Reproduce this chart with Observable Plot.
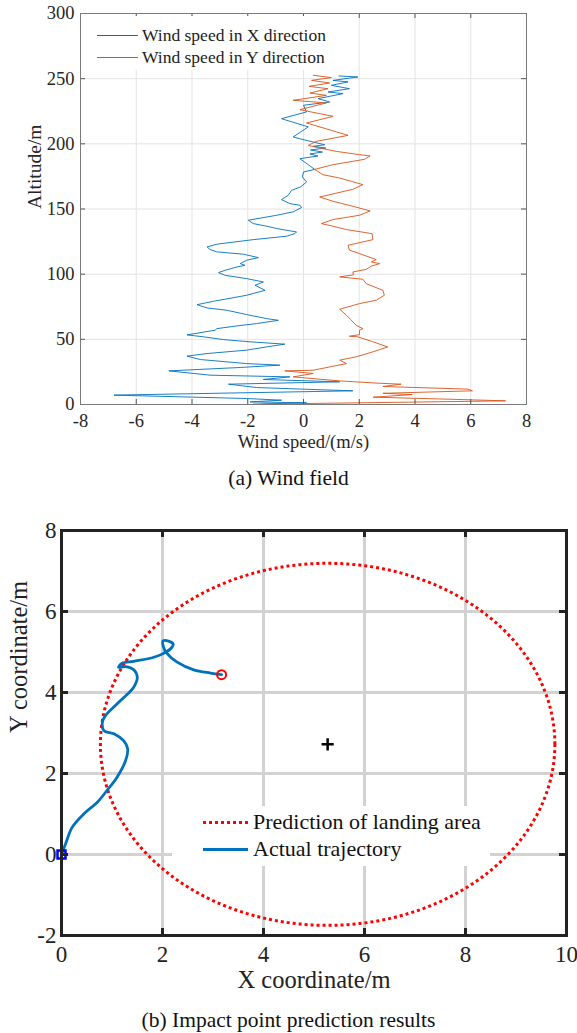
<!DOCTYPE html>
<html><head><meta charset="utf-8">
<script src="https://cdn.jsdelivr.net/npm/d3@7"></script>
<script src="https://cdn.jsdelivr.net/npm/@observablehq/plot@0.6"></script>
<style>
body{margin:0;background:#fff;font-family:"Liberation Serif","Times New Roman",serif;}
#wrap{position:relative;width:577px;height:1033px;overflow:hidden;}
.cap{position:absolute;left:0;width:577px;text-align:center;font-size:21.5px;color:#111;line-height:24px;}
.leg{position:absolute;background:#fff;}
.lt{position:absolute;white-space:nowrap;color:#111;}
svg text{font-family:"Liberation Serif","Times New Roman",serif !important;}
</style></head><body><div id="wrap"></div>
<script>
// ---------- (a) Wind field ----------
const windAltX = [0.3,1.3,2,3.3,4.6,7.2,10.5,13,15.6,17.4,19.2,21.2,22.5,25.8,28.4,30.2,31.4,34.5,37.1,39.1,41.7,44.2,46.3,48.1,49.8,51.9,53.4,57,58.2,60.3,62.1,64.6,65.9,69,72.3,74.1,76.6,79.2,83.8,87.6,91.5,94,96.6,99.1,101.2,103,105.5,106.8,108.1,110.7,112.7,115.3,117.1,118.9,120.9,123,126.5,129.1,131.1,132.4,135,136.8,138.8,141.4,145.2,147.8,151.1,152.9,154.1,157.2,160.5,164.3,166.9,170.7,174.6,178.4,180.4,184,188.6,190.7,192.2,193.7,195.3,196.8,198.1,199.3,201.4,203.9,205.3,213,219.3,224.5,229.6,232.1,234.7,238.5,239.8,242.3,244.9,247.5,248.7,251.3,252.1];
const windSpeedX = [-1.8,0.11,-1.92,-0.79,-2.04,-6.8,1.77,-1.68,-2.69,1.3,-1.44,-0.49,-3.35,-4.83,-2.27,-0.85,-2.04,-3.7,-4.18,-3.46,-2.04,-1.32,-0.67,-1.92,-2.87,-3.58,-4.18,-3.17,-3.11,-2.39,-1.68,-0.9,-1.32,-2.04,-2.75,-3.46,-3.82,-3.23,-2.04,-1.38,-1.74,-1.44,-2.04,-2.81,-3.05,-2.81,-2.39,-2.1,-2.27,-2.04,-1.62,-2.15,-3.11,-3.35,-3.46,-3.11,-1.8,-0.61,-0.31,-0.25,-0.96,-1.32,-1.8,-1.98,-0.96,-0.37,-0.07,-0.13,-0.49,-0.79,-0.55,-0.43,-0.11,0.11,-0.04,0,0.4,0.17,-0.13,0.52,0.23,0.68,0.25,0.8,0.35,0.76,0.35,-0.13,-0.37,0.17,-0.79,0.11,0,0.94,0.52,1.42,0.88,1.65,1.0,1.6,1.06,1.95,1.27];
const windAltY = [0.3,2.8,4.2,5.6,7.6,8.6,10.5,11.8,13.8,15.6,16.3,18.1,21.2,23.8,25.8,26.3,31.4,34,36.6,40.4,44.2,48.1,51.9,52.4,53.6,57,58.2,60.8,65,68.5,73.1,77.4,80,83.8,87.6,92.7,96.1,97.9,99.5,101.7,103.7,106.1,108.1,109.4,111.2,115.8,118.4,122.2,126.5,131.1,134.2,136.8,138.8,141.9,145.2,148.5,152.1,155.9,159.2,165.1,168.7,173.8,176.3,180.4,184,188.1,190.7,191.7,194.2,196.8,198.8,201.9,206.5,216,221.1,226.2,231.4,233.4,237.2,239,242.3,244.1,246.7,248.7,250.8,252.6];
const windSpeedY = [-1.5,7.25,5.0,2.5,3.9,2.85,6.06,5.9,2.85,3.5,2.73,1.3,-0.37,0.35,-0.67,0.35,1.54,1.3,1.89,2.49,3.02,2.49,1.95,1.65,2.01,2.01,2.13,1.89,1.7,1.54,1.3,2.01,2.61,2.9,2.85,2.25,2.13,1.3,1.8,1.77,2.25,2.43,2.73,2.43,2.61,2.01,1.65,1.6,2.49,2.46,1.54,1.06,0.64,1.06,2.01,2.39,1.77,1.06,0.58,1.77,2.13,1.29,0.7,0.4,1.06,2.19,2.39,2.01,1.18,0.58,0.17,0.46,1.6,0.11,1.06,-0.13,0.82,-0.37,0.82,0.23,0.88,0.2,0.94,0.29,1.0,0.35];
const windXTicks = [-8,-6,-4,-2,0,2,4,6,8];
const windYTicks = [0,50,100,150,200,250,300];
const windSeriesNames = ["Wind speed in X direction","Wind speed in Y direction"];

// ---------- (b) Impact point ----------
const trajX = [0,0.08,0.21,0.44,0.71,0.9,1.1,1.27,1.31,1.23,1.04,0.84,0.81,0.87,1.17,1.43,1.5,1.43,1.27,1.13,1.2,1.43,1.83,2.06,2.19,2.21,2.12,2.01,2.02,2.08,2.29,2.62,2.95,3.17];
const trajY = [0,0.26,0.67,1.0,1.29,1.58,1.91,2.32,2.61,2.81,2.98,3.06,3.27,3.43,3.8,4.13,4.38,4.56,4.64,4.62,4.72,4.77,4.87,4.99,5.12,5.2,5.27,5.27,5.12,4.98,4.75,4.56,4.48,4.44];
const areaCenter = [5.27, 2.72];
const areaRadii = [4.5, 4.47];
const impactXTicks = [0,2,4,6,8,10];
const impactYTicks = [-2,0,2,4,6,8];
const impactSeriesNames = ["Prediction of landing area","Actual trajectory"];

const serif = '"Liberation Serif","Times New Roman",serif';
const hyph = d => (d < 0 ? "-" + Math.abs(d) : String(d));
const wrap = document.getElementById("wrap");

// ----- chart 1 -----
const c1 = {W:577, H:460, ML:80, MR:51, MT:13, MB:56};
const ph1 = c1.H - c1.MT - c1.MB, pw1 = c1.W - c1.ML - c1.MR;
const tky1 = 5 / ph1 * 300, tkx1 = 5 / pw1 * 16;
const dataX = windAltX.map((a, i) => ({alt: a, w: windSpeedX[i]}));
const dataY = windAltY.map((a, i) => ({alt: a, w: windSpeedY[i]}));
const blue1 = "#0072BD", orange1 = "#D95319";
const plot1 = Plot.plot({
  width: c1.W, height: c1.H, marginLeft: c1.ML, marginRight: c1.MR, marginTop: c1.MT, marginBottom: c1.MB,
  style: {fontFamily: serif, fontSize: "18px", color: "#262626", background: "transparent"},
  x: {domain: [-8, 8], label: null},
  y: {domain: [0, 300], label: null},
  marks: [
    Plot.gridX(windXTicks, {stroke: "#e3e3e3", strokeOpacity: 1}),
    Plot.gridY(windYTicks, {stroke: "#e3e3e3", strokeOpacity: 1}),
    Plot.line(dataX, {x: "w", y: "alt", stroke: blue1, strokeWidth: 0.9}),
    Plot.line(dataY, {x: "w", y: "alt", stroke: orange1, strokeWidth: 0.9}),
    Plot.ruleX(windXTicks, {x: d => d, y1: 0, y2: tky1, stroke: "#555"}),
    Plot.ruleX(windXTicks, {x: d => d, y1: 300, y2: 300 - tky1, stroke: "#555"}),
    Plot.ruleY(windYTicks, {y: d => d, x1: -8, x2: -8 + tkx1, stroke: "#555"}),
    Plot.ruleY(windYTicks, {y: d => d, x1: 8, x2: 8 - tkx1, stroke: "#555"}),
    Plot.frame({stroke: "#7a7a7a"}),
    Plot.axisX(windXTicks, {tickSize: 0, tickPadding: 9, tickFormat: hyph, label: null, fontFamily: serif, fontSize: 18.5}),
    Plot.axisY(windYTicks, {tickSize: 0, tickPadding: 6, tickFormat: hyph, label: null, fontFamily: serif, fontSize: 18.5}),
    Plot.text(["Wind speed/(m/s)"], {frameAnchor: "bottom", lineAnchor: "middle", dy: 38, fontSize: 18.5, fontFamily: serif, fill: "#262626"}),
    Plot.text(["Altitude/m"], {frameAnchor: "left", dx: -46, rotate: -90, fontSize: 19.5, fontFamily: serif, fill: "#262626"})
  ]
});
plot1.style.position = "absolute"; plot1.style.left = "0px"; plot1.style.top = "0px";
wrap.appendChild(plot1);

// legend 1
const leg1 = document.createElement("div");
leg1.className = "leg";
Object.assign(leg1.style, {left: "83px", top: "16px", width: "254px", height: "54px"});
wrap.appendChild(leg1);
[[blue1, 35], [orange1, 57]].forEach(([col, y], i) => {
  const ln = document.createElement("div");
  Object.assign(ln.style, {position: "absolute", left: "97px", top: (y - 0.5) + "px", width: "41px", height: "1px", background: col});
  wrap.appendChild(ln);
  const t = document.createElement("div");
  t.className = "lt";
  Object.assign(t.style, {left: "142px", top: (y - 11) + "px", fontSize: "17.5px", lineHeight: "22px", color: "#222"});
  t.textContent = windSeriesNames[i];
  wrap.appendChild(t);
});
const cap1 = document.createElement("div");
cap1.className = "cap"; cap1.style.top = "466px"; cap1.textContent = "(a) Wind field";
wrap.appendChild(cap1);

// ----- chart 2 -----
const c2 = {W:577, H:500, ML:61, MR:11, MT:30, MB:65, top:500};
const ph2 = c2.H - c2.MT - c2.MB, pw2 = c2.W - c2.ML - c2.MR;
const tky2 = 7 / ph2 * 10, tkx2 = 7 / pw2 * 10;
const traj = trajX.map((x, i) => ({x, y: trajY[i]}));
const ellipse = d3.range(0, 361, 1).map(t => ({
  x: areaCenter[0] + areaRadii[0] * Math.cos(t * Math.PI / 180),
  y: areaCenter[1] + areaRadii[1] * Math.sin(t * Math.PI / 180)
}));
const plot2 = Plot.plot({
  width: c2.W, height: c2.H, marginLeft: c2.ML, marginRight: c2.MR, marginTop: c2.MT, marginBottom: c2.MB,
  style: {fontFamily: serif, fontSize: "23px", color: "#222", background: "transparent"},
  x: {domain: [0, 10], label: null},
  y: {domain: [-2, 8], label: null},
  marks: [
    Plot.gridX(impactXTicks, {stroke: "#d2d2d2", strokeOpacity: 1, strokeWidth: 3}),
    Plot.gridY(impactYTicks, {stroke: "#d2d2d2", strokeOpacity: 1, strokeWidth: 3}),
    Plot.line(ellipse, {x: "x", y: "y", stroke: "#ff0000", strokeWidth: 3, strokeDasharray: "3 3", strokeLinecap: "butt"}),
    Plot.line(traj, {x: "x", y: "y", stroke: "#0072BD", strokeWidth: 2.8, curve: "catmull-rom"}),
    Plot.dot([areaCenter], {x: d => d[0], y: d => d[1], symbol: "plus", r: 4, stroke: "#000", strokeWidth: 2.5}),
    Plot.dot([traj[traj.length - 1]], {x: "x", y: "y", r: 4.5, stroke: "#ff0000", strokeWidth: 2, fill: "none"}),
    Plot.dot([traj[0]], {x: "x", y: "y", symbol: "square", r: 4.5, stroke: "#0000ff", strokeWidth: 2.5, fill: "none"}),
    Plot.ruleX(impactXTicks, {x: d => d, y1: -2, y2: -2 + tky2, stroke: "#222", strokeWidth: 3}),
    Plot.ruleX(impactXTicks, {x: d => d, y1: 8, y2: 8 - tky2, stroke: "#222", strokeWidth: 3}),
    Plot.ruleY(impactYTicks, {y: d => d, x1: 0, x2: tkx2, stroke: "#222", strokeWidth: 3}),
    Plot.ruleY(impactYTicks, {y: d => d, x1: 10, x2: 10 - tkx2, stroke: "#222", strokeWidth: 3}),
    Plot.frame({stroke: "#222", strokeWidth: 3}),
    Plot.axisX(impactXTicks, {tickSize: 0, tickPadding: 10, tickFormat: hyph, label: null, fontFamily: serif, fontSize: 23}),
    Plot.axisY(impactYTicks, {tickSize: 0, tickPadding: 5, tickFormat: hyph, label: null, fontFamily: serif, fontSize: 23}),
    Plot.text(["X coordinate/m"], {frameAnchor: "bottom", lineAnchor: "middle", dy: 45, fontSize: 24.5, fontFamily: serif, fill: "#222"}),
    Plot.text(["Y coordinate/m"], {frameAnchor: "left", dx: -42, rotate: -90, fontSize: 24.5, fontFamily: serif, fill: "#222"})
  ]
});
plot2.style.position = "absolute"; plot2.style.left = "0px"; plot2.style.top = c2.top + "px";
plot2.style.overflow = "visible";
wrap.appendChild(plot2);

// legend 2
const leg2 = document.createElement("div");
leg2.className = "leg";
Object.assign(leg2.style, {left: "172px", top: "806px", width: "318px", height: "60px"});
wrap.appendChild(leg2);
[[822, "dotted"], [849, "solid"]].forEach(([y, kind], i) => {
  const ln = document.createElement("div");
  if (kind === "dotted") {
    Object.assign(ln.style, {position: "absolute", left: "203px", top: (y - 1.5) + "px", width: "45px", height: "3px",
      background: "repeating-linear-gradient(90deg,#ff0000 0 3px,transparent 3px 6px)"});
  } else {
    Object.assign(ln.style, {position: "absolute", left: "203px", top: (y - 1.5) + "px", width: "45px", height: "3px", background: "#0072BD"});
  }
  wrap.appendChild(ln);
  const t = document.createElement("div");
  t.className = "lt";
  Object.assign(t.style, {left: "253px", top: (y - 13) + "px", fontSize: "22px", lineHeight: "26px", color: "#111"});
  t.textContent = impactSeriesNames[i];
  wrap.appendChild(t);
});
const cap2 = document.createElement("div");
cap2.className = "cap"; cap2.style.top = "1008px"; cap2.textContent = "(b) Impact point prediction results";
wrap.appendChild(cap2);
</script></body></html>
